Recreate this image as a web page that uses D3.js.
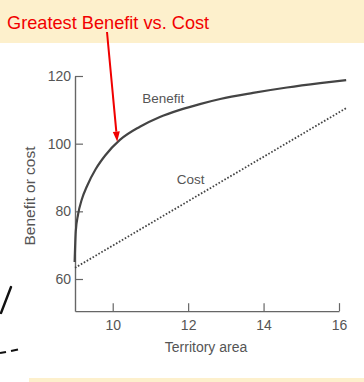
<!DOCTYPE html>
<html>
<head>
<meta charset="utf-8">
<script src="https://cdn.jsdelivr.net/npm/d3@7"></script>
<style>
  html, body { margin: 0; padding: 0; background: #ffffff; }
  svg { display: block; }
  text { font-family: "Liberation Sans", Arial, sans-serif; }
</style>
</head>
<body>
<svg id="chart" width="364" height="382"></svg>
<script>
// ---- data ----
const titleText = "Greatest Benefit vs. Cost";
const xLabel = "Territory area";
const yLabel = "Benefit or cost";
const xTicks = [10, 12, 14, 16];
const yTicks = [60, 80, 100, 120];
const benefitX = [8.99, 9.02, 9.08, 9.18, 9.32, 9.55, 9.80, 10.19, 10.72, 11.25, 11.78, 12.31, 12.85, 13.72, 14.62, 15.50, 16.19];
const benefitY = [65.0, 74.0, 79.0, 83.5, 87.5, 92.5, 96.5, 101.1, 105.0, 107.9, 110.0, 111.7, 113.2, 115.0, 116.6, 117.9, 118.8];
const costX = [9.0, 16.19];
const costY = [63.3, 110.5];
const seriesLabels = [
  { name: "Benefit", x: 10.78, y: 112.0 },
  { name: "Cost", x: 11.70, y: 88.1 }
];
const arrowTarget = { x: 10.12, y: 100.6 };

// ---- drawing ----
const svg = d3.select("#chart");

// background bands
svg.append("rect").attr("x", 0).attr("y", 0).attr("width", 364).attr("height", 43).attr("fill", "#fdf0cc");
svg.append("rect").attr("x", 29).attr("y", 378).attr("width", 335).attr("height", 4).attr("fill", "#fdf0cc");

const x = d3.scaleLinear().domain([9, 16]).range([75, 339]);
const y = d3.scaleLinear().domain([60, 120]).range([279, 76]);
const yBottom = 50.5;

const axisColor = "#666";
const textColor = "#555";

// y axis
const yAxisScale = d3.scaleLinear().domain([yBottom, 120]).range([y(yBottom), y(120)]);
const gy = svg.append("g").attr("transform", `translate(${x(9)},0)`)
  .call(d3.axisLeft(yAxisScale).tickValues(yTicks).tickSizeInner(-8).tickSizeOuter(0).tickPadding(4));
gy.select(".domain").attr("stroke", axisColor).attr("stroke-width", 1.4);
gy.selectAll(".tick line").attr("stroke", axisColor).attr("stroke-width", 1.2);
gy.selectAll(".tick text").attr("fill", textColor).attr("font-size", 14)
  .attr("font-family", "'Liberation Sans', Arial, sans-serif");

// x axis
const gx = svg.append("g").attr("transform", `translate(0,${y(yBottom)})`)
  .call(d3.axisBottom(x).tickValues(xTicks).tickSizeInner(-8).tickSizeOuter(0).tickPadding(9).tickFormat(d3.format("d")));
gx.select(".domain").attr("stroke", axisColor).attr("stroke-width", 1.4);
gx.selectAll(".tick line").attr("stroke", axisColor).attr("stroke-width", 1.2);
gx.selectAll(".tick text").attr("fill", textColor).attr("font-size", 14)
  .attr("font-family", "'Liberation Sans', Arial, sans-serif");

// axis titles
svg.append("text").attr("x", 206).attr("y", 352).attr("text-anchor", "middle")
  .attr("font-size", 14).attr("fill", textColor).text(xLabel);
svg.append("text").attr("transform", "translate(35,196) rotate(-90)").attr("text-anchor", "middle")
  .attr("font-size", 15.5).attr("fill", textColor).text(yLabel);

// benefit curve
const benefit = benefitX.map((v, i) => [v, benefitY[i]]);
svg.append("path").datum(benefit)
  .attr("fill", "none").attr("stroke", "#444").attr("stroke-width", 2.2)
  .attr("d", d3.line().x(d => x(d[0])).y(d => y(d[1])).curve(d3.curveMonotoneX));

// cost line
const cost = costX.map((v, i) => [v, costY[i]]);
svg.append("path").datum(cost)
  .attr("fill", "none").attr("stroke", "#444").attr("stroke-width", 1.8)
  .attr("stroke-dasharray", "1.6,1.8")
  .attr("d", d3.line().x(d => x(d[0])).y(d => y(d[1])));

// series labels
svg.selectAll(".slabel").data(seriesLabels).enter().append("text")
  .attr("class", "slabel")
  .attr("x", d => x(d.x)).attr("y", d => y(d.y))
  .attr("font-size", 13.5).attr("fill", textColor).text(d => d.name);

// title
svg.append("text").attr("x", 7).attr("y", 29).attr("font-size", 18.2).attr("fill", "#f20000").text(titleText);

// red arrow
const tipX = x(arrowTarget.x), tipY = y(arrowTarget.y);
const startX = 107, startY = 32;
const ang = Math.atan2(tipY - startY, tipX - startX);
const headLen = 10, headW = 3.5;
const baseX = tipX - headLen * Math.cos(ang), baseY = tipY - headLen * Math.sin(ang);
svg.append("line").attr("x1", startX).attr("y1", startY).attr("x2", baseX).attr("y2", baseY)
  .attr("stroke", "#f00000").attr("stroke-width", 2);
svg.append("path")
  .attr("d", `M${tipX},${tipY} L${baseX + headW * Math.sin(ang)},${baseY - headW * Math.cos(ang)} L${baseX - headW * Math.sin(ang)},${baseY + headW * Math.cos(ang)} Z`)
  .attr("fill", "#f00000");

// stray pen marks at left edge
svg.append("line").attr("x1", 11).attr("y1", 287).attr("x2", 1).attr("y2", 313)
  .attr("stroke", "#111").attr("stroke-width", 2.4).attr("stroke-linecap", "round");
svg.append("line").attr("x1", 0).attr("y1", 353).attr("x2", 6).attr("y2", 352)
  .attr("stroke", "#111").attr("stroke-width", 2);
svg.append("line").attr("x1", 11).attr("y1", 351).attr("x2", 18).attr("y2", 349.5)
  .attr("stroke", "#111").attr("stroke-width", 2);
</script>
</body>
</html>
